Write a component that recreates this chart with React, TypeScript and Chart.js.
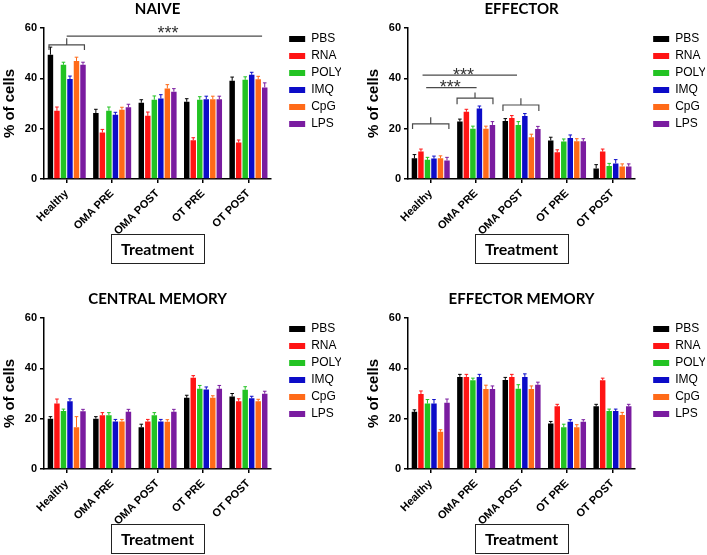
import React, { useEffect, useRef } from 'react';
import { Chart, registerables } from 'chart.js';

Chart.register(...registerables);

// ---------- shared ----------
const categories = ['Healthy', 'OMA PRE', 'OMA POST', 'OT PRE', 'OT POST'];
const seriesNames = ['PBS', 'RNA', 'POLY', 'IMQ', 'CpG', 'LPS'];
const seriesColors = ['#000000', '#ff1414', '#22c322', '#0c0cc8', '#ff6a18', '#7a1ca0'];
const yTickValues = [0, 20, 40, 60];

// ---------- NAIVE ----------
const naivePBS = [49.4, 26.2, 30.3, 30.7, 39.0];
const naiveRNA = [27.1, 18.5, 25.1, 15.4, 14.5];
const naivePOLY = [45.4, 27.1, 31.5, 31.5, 39.4];
const naiveIMQ = [39.7, 25.5, 32.0, 31.7, 41.4];
const naiveCpG = [46.9, 27.5, 36.0, 31.7, 39.6];
const naiveLPS = [45.4, 28.5, 34.7, 31.7, 36.4];
const naiveErr = [
  [3.0, 1.5, 1.2, 1.2, 1.5],
  [1.5, 1.2, 1.5, 1.0, 1.0],
  [1.0, 1.5, 1.5, 1.2, 1.2],
  [1.2, 1.0, 1.5, 1.2, 1.0],
  [1.5, 1.0, 1.5, 1.2, 1.2],
  [1.0, 1.2, 1.2, 1.2, 1.8],
];
// significance marks: [from, to, y, endY, tickTopY]
const naiveBrackets = [[-0.39, 0.39, 53.3, 51.3, 55.9]];
const naiveLines = [[0, 4.3, 56.8]];
const naiveStars = [[2.23, 57.8]];

// ---------- EFFECTOR ----------
const effPBS = [8.2, 22.8, 23.0, 15.3, 4.2];
const effRNA = [10.9, 26.7, 24.2, 10.6, 10.9];
const effPOLY = [7.6, 20.0, 21.5, 14.9, 5.2];
const effIMQ = [8.1, 28.0, 25.0, 16.3, 6.2];
const effCpG = [8.2, 20.0, 16.6, 15.0, 5.0];
const effLPS = [7.4, 21.5, 19.9, 15.0, 5.0];
const effErr = [
  [1.5, 1.0, 1.0, 1.3, 1.5],
  [1.0, 1.0, 1.0, 1.0, 1.0],
  [1.0, 1.0, 1.3, 1.0, 1.0],
  [1.0, 1.0, 1.0, 1.2, 1.5],
  [1.0, 1.0, 1.2, 1.0, 1.0],
  [1.2, 1.3, 1.0, 1.0, 1.0],
];
const effBrackets = [
  [-0.4, 0.4, 21.9, 19.9, 24.5],
  [0.58, 1.37, 32.1, 29.7, 34.4],
  [1.59, 2.38, 29.4, 27.0, 32.1],
];
const effLines = [
  [-0.1, 1.01, 36.3],
  [-0.18, 1.9, 41.3],
];
const effStars = [
  [0.43, 36.0],
  [0.72, 41.0],
];

// ---------- CENTRAL MEMORY ----------
const cmPBS = [20.0, 20.0, 16.6, 28.3, 28.8];
const cmRNA = [26.0, 21.4, 18.9, 36.3, 26.9];
const cmPOLY = [23.0, 21.4, 21.4, 31.9, 31.5];
const cmIMQ = [26.9, 18.9, 18.9, 31.6, 28.1];
const cmCpG = [16.6, 18.9, 18.8, 28.3, 26.9];
const cmLPS = [22.9, 22.7, 22.7, 31.9, 29.9];
const cmErr = [
  [0.8, 0.8, 1.2, 1.0, 1.2],
  [1.8, 1.0, 0.8, 0.8, 1.0],
  [0.8, 1.0, 1.0, 1.3, 1.2],
  [1.0, 0.8, 0.8, 1.0, 0.8],
  [4.2, 0.8, 0.8, 0.8, 0.8],
  [0.8, 1.0, 1.0, 1.3, 1.0],
];

// ---------- EFFECTOR MEMORY ----------
const emPBS = [22.7, 36.6, 35.4, 18.1, 24.9];
const emRNA = [29.8, 36.6, 36.6, 24.9, 35.3];
const emPOLY = [26.0, 35.3, 31.9, 16.6, 23.0];
const emIMQ = [26.0, 36.6, 36.6, 18.8, 23.0];
const emCpG = [14.8, 31.8, 31.8, 16.6, 21.5];
const emLPS = [26.3, 31.8, 33.5, 18.8, 24.9];
const emErr = [
  [0.8, 1.0, 1.0, 0.8, 0.8],
  [1.2, 1.0, 1.0, 0.8, 0.8],
  [1.6, 0.8, 1.6, 1.2, 0.8],
  [1.6, 1.0, 1.2, 0.8, 0.8],
  [0.8, 1.5, 1.2, 1.0, 1.0],
  [1.5, 1.2, 1.0, 0.8, 0.8],
];

type PanelProps = {
  left: number;
  top: number;
  title: string;
  series: number[][];
  errors: number[][];
  brackets?: number[][];
  lines?: number[][];
  stars?: number[][];
};

const W = 341;
const H = 265;

function Panel({ left, top, title, series, errors, brackets = [], lines = [], stars = [] }: PanelProps) {
  const ref = useRef<HTMLCanvasElement | null>(null);

  useEffect(() => {
    if (!ref.current) return;

    const errorBars = {
      id: 'errorBars',
      afterDatasetsDraw(chart: any) {
        const ctx = chart.ctx;
        const ys = chart.scales.y;
        ctx.save();
        chart.data.datasets.forEach((ds: any, i: number) => {
          const meta = chart.getDatasetMeta(i);
          meta.data.forEach((bar: any, j: number) => {
            const v = ds.data[j];
            const e = errors[i][j];
            const yTop = ys.getPixelForValue(v + e);
            ctx.strokeStyle = seriesColors[i];
            ctx.lineWidth = 1;
            ctx.beginPath();
            ctx.moveTo(bar.x, bar.y);
            ctx.lineTo(bar.x, yTop);
            ctx.moveTo(bar.x - 1.8, yTop);
            ctx.lineTo(bar.x + 1.8, yTop);
            ctx.stroke();
          });
        });
        ctx.restore();
      },
    };

    const marks = {
      id: 'marks',
      afterDraw(chart: any) {
        const ctx = chart.ctx;
        const xs = chart.scales.x;
        const ys = chart.scales.y;
        ctx.save();
        ctx.strokeStyle = '#4a4a4a';
        ctx.lineWidth = 1.2;
        brackets.forEach(([a, b, y, yEnd, yTick]) => {
          const x1 = xs.getPixelForValue(a);
          const x2 = xs.getPixelForValue(b);
          const xc = (x1 + x2) / 2;
          const py = ys.getPixelForValue(y);
          const pe = ys.getPixelForValue(yEnd);
          const pt = ys.getPixelForValue(yTick);
          ctx.beginPath();
          ctx.moveTo(x1, pe);
          ctx.lineTo(x1, py);
          ctx.lineTo(x2, py);
          ctx.lineTo(x2, pe);
          ctx.moveTo(xc, py);
          ctx.lineTo(xc, pt);
          ctx.stroke();
        });
        lines.forEach(([a, b, y]) => {
          const py = ys.getPixelForValue(y);
          ctx.beginPath();
          ctx.moveTo(xs.getPixelForValue(a), py);
          ctx.lineTo(xs.getPixelForValue(b), py);
          ctx.stroke();
        });
        ctx.fillStyle = '#333';
        ctx.font = '18px "Liberation Sans"';
        ctx.textAlign = 'center';
        ctx.textBaseline = 'middle';
        stars.forEach(([a, y]) => {
          ctx.fillText('***', xs.getPixelForValue(a), ys.getPixelForValue(y));
        });
        // box around the x-axis title
        const tfont = 16;
        const lh = tfont * 1.2;
        const cx = (xs.left + xs.right) / 2;
        const cy = xs.bottom - 6 - lh / 2;
        ctx.strokeStyle = '#222';
        ctx.lineWidth = 1;
        ctx.strokeRect(Math.round(cx - 46.5) + 0.5, Math.round(cy - 15) + 0.5, 93, 29);
        ctx.restore();
      },
    };

    const chart = new Chart(ref.current, {
      type: 'bar',
      data: {
        labels: categories,
        datasets: series.map((d, i) => ({
          label: seriesNames[i],
          data: d,
          backgroundColor: seriesColors[i],
          borderWidth: 0,
          categoryPercentage: 0.86,
          barPercentage: 0.84,
        })),
      },
      options: {
        responsive: false,
        animation: false,
        devicePixelRatio: 1,
        layout: { padding: { left: 0, right: 0, top: 0, bottom: 0 } },
        plugins: {
          title: {
            display: true,
            text: title,
            fullSize: false,
            color: '#000',
            font: { family: 'Lato', size: 15, weight: 'bold' },
            padding: { top: 0, bottom: 10 },
          },
          legend: {
            position: 'right',
            align: 'start',
            fullSize: false,
            labels: {
              boxWidth: 16,
              boxHeight: 6,
              padding: 5,
              color: '#000',
              font: { family: 'Liberation Sans', size: 12 },
            },
          },
          tooltip: { enabled: false },
        },
        scales: {
          x: {
            grid: {
              display: true,
              drawOnChartArea: false,
              offset: false,
              tickLength: 4,
              color: '#000',
              lineWidth: 1.5,
            },
            border: { display: true, color: '#000', width: 1.5 },
            ticks: {
              color: '#000',
              font: { family: 'Liberation Sans', size: 11, weight: 'bold' },
              minRotation: 45,
              maxRotation: 45,
              autoSkip: false,
              padding: 4,
            },
            title: {
              display: true,
              text: 'Treatment',
              color: '#000',
              font: { family: 'Lato', size: 16, weight: 'bold' },
              padding: { top: 0, bottom: 6 },
            },
            afterFit: (s: any) => {
              s.height = 86;
            },
          },
          y: {
            min: 0,
            max: 60,
            afterBuildTicks: (s: any) => {
              s.ticks = yTickValues.map((v) => ({ value: v }));
            },
            ticks: {
              color: '#000',
              font: { family: 'Liberation Sans', size: 11, weight: 'bold' },
              padding: 3,
            },
            grid: {
              display: true,
              drawOnChartArea: false,
              tickLength: 4,
              color: '#000',
              lineWidth: 1.5,
            },
            border: { display: true, color: '#000', width: 1.5 },
            title: {
              display: true,
              text: '% of cells',
              color: '#000',
              font: { family: 'Liberation Sans', size: 15, weight: 'bold' },
              padding: { top: 1, bottom: 0 },
            },
            afterFit: (s: any) => {
              s.width = 44;
            },
          },
          gap: {
            type: 'linear',
            position: 'right',
            display: true,
            grid: { display: false },
            border: { display: false },
            ticks: { display: false },
            afterFit: (s: any) => {
              s.width = 13;
            },
          },
        },
      } as any,
      plugins: [errorBars, marks],
    });

    return () => chart.destroy();
  }, []);

  return (
    <div style={{ position: 'absolute', left, top, width: W, height: H }}>
      <canvas ref={ref} width={W} height={H} style={{ width: W, height: H, display: 'block' }} />
    </div>
  );
}

export default function App() {
  return (
    <div
      style={{
        position: 'absolute',
        left: 0,
        top: 0,
        width: 707,
        height: 555,
        overflow: 'hidden',
        background: '#fff',
      }}
    >
      <Panel
        left={0}
        top={0}
        title="NAIVE"
        series={[naivePBS, naiveRNA, naivePOLY, naiveIMQ, naiveCpG, naiveLPS]}
        errors={naiveErr}
        brackets={naiveBrackets}
        lines={naiveLines}
        stars={naiveStars}
      />
      <Panel
        left={364}
        top={0}
        title="EFFECTOR"
        series={[effPBS, effRNA, effPOLY, effIMQ, effCpG, effLPS]}
        errors={effErr}
        brackets={effBrackets}
        lines={effLines}
        stars={effStars}
      />
      <Panel
        left={0}
        top={290}
        title="CENTRAL MEMORY"
        series={[cmPBS, cmRNA, cmPOLY, cmIMQ, cmCpG, cmLPS]}
        errors={cmErr}
      />
      <Panel
        left={364}
        top={290}
        title="EFFECTOR MEMORY"
        series={[emPBS, emRNA, emPOLY, emIMQ, emCpG, emLPS]}
        errors={emErr}
      />
    </div>
  );
}
